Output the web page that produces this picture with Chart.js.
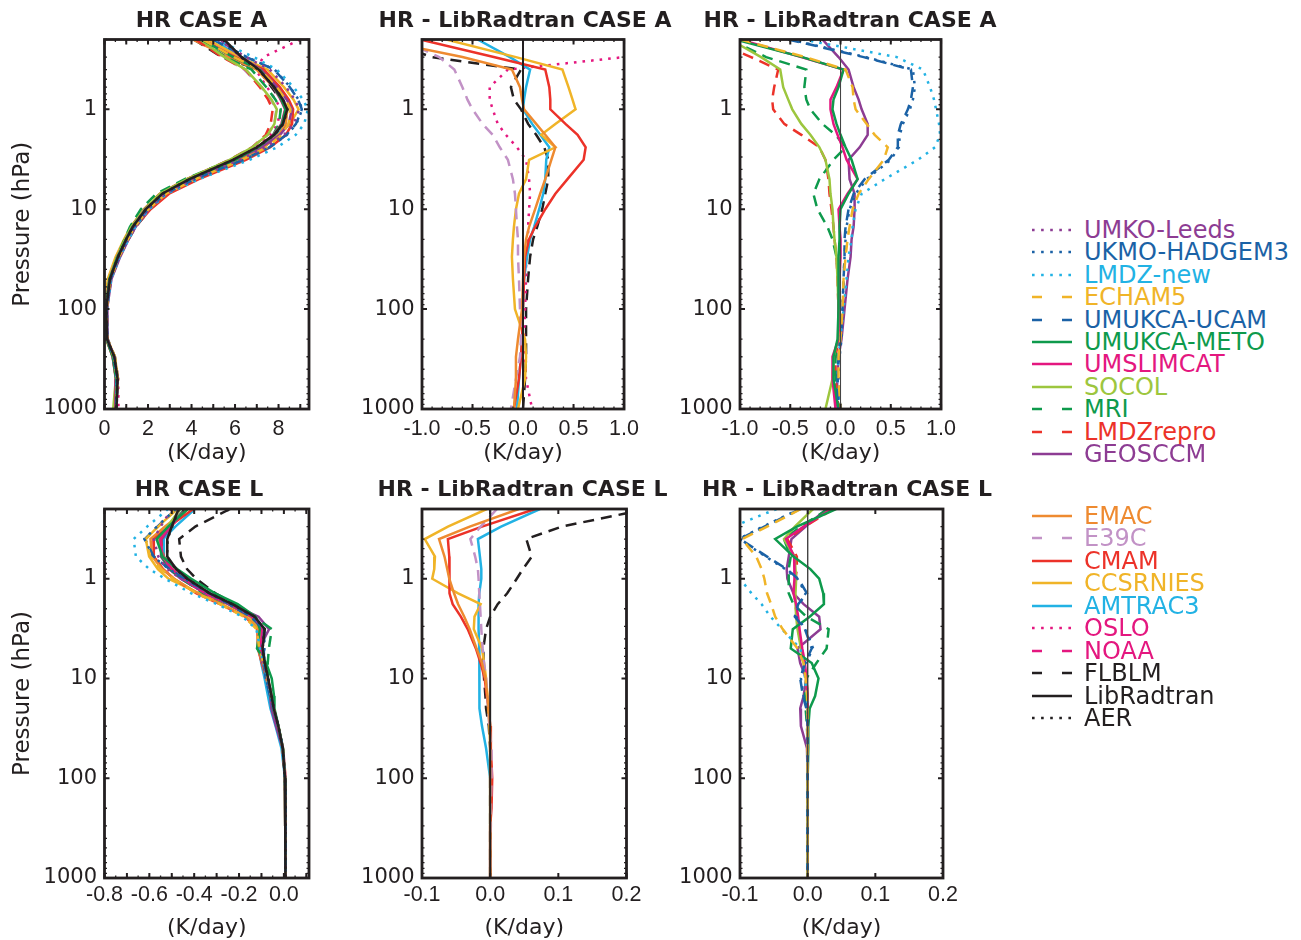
<!DOCTYPE html>
<html lang="en">
<head>
<meta charset="utf-8">
<title>Heating rate profiles</title>
<script src="https://cdn.jsdelivr.net/npm/chart.js@4.4.1/dist/chart.umd.min.js"></script>
<style>
  html, body { margin: 0; padding: 0; background: #fff; overflow: hidden; }
  #figure { position: relative; width: 1301px; height: 940px; overflow: hidden; background: #fff; }
  #figure canvas { position: absolute; }
  .panel-title {
    position: absolute; width: 400px; text-align: center; white-space: nowrap;
    font: bold 22px "DejaVu Sans", sans-serif; line-height: 26px; color: #231f20;
  }
  .legend-row {
    position: absolute; left: 1032px; height: 24px; display: flex; align-items: center;
    font: 24px "DejaVu Sans", sans-serif; white-space: nowrap;
  }
  .legend-row svg { margin-right: 12px; flex: none; }
</style>
</head>
<body>
<div id="figure"></div>
<script>
// Pressure levels (hPa) shared by every profile
const PRESSURE = [0.2, 0.3, 0.4, 0.6, 0.8, 1, 1.4, 1.8, 2.4, 3.2, 5, 7, 10, 15, 20, 30, 50, 100, 200, 300, 500, 1000];

// HR CASE A (K/day)
const hrCaseA = {
    'LibRadtran':   [5.5, 6.3, 7.1, 7.8, 8.2, 8.4, 8.2, 7.8, 7.0, 5.9, 3.9, 2.65, 1.9, 1.3, 1.0, 0.62, 0.25, 0.08, 0.12, 0.45, 0.6, 0.55],
    'AER':          [5.45, 6.28, 7.08, 7.8, 8.21, 8.41, 8.22, 7.82, 7.02, 5.92, 3.91, 2.66, 1.9, 1.3, 1.0, 0.62, 0.25, 0.08, 0.12, 0.45, 0.6, 0.55],
    'UMKO-Leeds':   [5.2, 6.5, 7.6, 8.35, 8.75, 8.95, 8.7, 8.25, 7.4, 6.2, 4.05, 2.75, 1.95, 1.33, 1.02, 0.64, 0.26, 0.09, 0.13, 0.46, 0.61, 0.56],
    'UKMO-HADGEM3': [5.0, 6.55, 7.82, 8.54, 8.92, 9.09, 8.82, 8.39, 7.58, 6.4, 4.16, 2.8, 1.99, 1.36, 1.05, 0.66, 0.28, 0.1, 0.13, 0.44, 0.58, 0.55],
    'LMDZ-new':     [5.12, 6.86, 7.92, 8.69, 9.13, 9.35, 9.18, 8.79, 7.94, 6.67, 4.34, 2.86, 2.05, 1.42, 1.11, 0.7, 0.31, 0.11, 0.12, 0.43, 0.57, 0.55],
    'ECHAM5':       [4.5, 5.95, 7.15, 7.92, 8.33, 8.55, 8.46, 8.14, 7.47, 6.33, 4.18, 2.83, 2.02, 1.39, 1.07, 0.67, 0.28, 0.1, 0.12, 0.43, 0.58, 0.55],
    'UMUKCA-UCAM':  [4.98, 6.53, 7.8, 8.52, 8.9, 9.07, 8.8, 8.37, 7.57, 6.38, 4.14, 2.78, 1.98, 1.35, 1.04, 0.66, 0.28, 0.1, 0.12, 0.43, 0.57, 0.53],
    'UMUKCA-METO':  [4.45, 5.92, 7.13, 7.78, 8.13, 8.32, 8.16, 7.8, 7.05, 6.01, 4.07, 2.73, 1.9, 1.29, 0.99, 0.6, 0.23, 0.06, 0.09, 0.38, 0.53, 0.53],
    'UMSLIMCAT':    [4.5, 5.91, 7.13, 7.76, 8.1, 8.3, 8.13, 7.77, 7.02, 5.96, 4.07, 2.72, 1.88, 1.29, 1.0, 0.62, 0.24, 0.06, 0.1, 0.37, 0.52, 0.5],
    'SOCOL':        [4.4, 5.51, 6.5, 7.23, 7.68, 7.92, 7.81, 7.5, 6.79, 5.75, 3.79, 2.55, 1.82, 1.23, 0.94, 0.58, 0.22, 0.06, 0.1, 0.38, 0.52, 0.4],
    'MRI':          [4.4, 5.56, 6.76, 7.44, 7.86, 8.1, 8.02, 7.75, 7.05, 5.83, 3.69, 2.38, 1.67, 1.17, 0.92, 0.58, 0.23, 0.06, 0.1, 0.4, 0.55, 0.53],
    'LMDZrepro':    [4.2, 5.41, 6.48, 7.14, 7.52, 7.73, 7.64, 7.41, 6.79, 5.75, 3.78, 2.54, 1.81, 1.23, 0.94, 0.58, 0.22, 0.06, 0.1, 0.4, 0.55, 0.53],
    'GEOSCCM':      [5.32, 6.28, 7.18, 7.93, 8.38, 8.61, 8.47, 8.07, 7.19, 5.98, 3.99, 2.79, 2.04, 1.43, 1.11, 0.72, 0.32, 0.12, 0.13, 0.43, 0.57, 0.5],
    'EMAC':         [4.05, 5.7, 6.99, 7.77, 8.19, 8.41, 8.33, 8.02, 7.32, 6.18, 4.12, 2.82, 2.02, 1.36, 1.03, 0.63, 0.25, 0.07, 0.07, 0.38, 0.53, 0.46],
    'E39C':         [4.3, 5.47, 6.42, 7.2, 7.65, 7.9, 7.8, 7.5, 6.77, 5.75, 3.8, 2.57, 1.83, 1.24, 0.95, 0.57, 0.21, 0.05, 0.1, 0.42, 0.53, 0.43],
    'CMAM':         [4.5, 6.01, 7.32, 8.06, 8.47, 8.67, 8.62, 8.34, 7.62, 6.5, 4.34, 2.97, 2.12, 1.42, 1.06, 0.64, 0.26, 0.08, 0.11, 0.43, 0.56, 0.46],
    'CCSRNIES':     [4.74, 6.23, 7.49, 8.25, 8.69, 8.92, 8.52, 7.98, 7.32, 5.96, 3.93, 2.61, 1.83, 1.21, 0.9, 0.51, 0.15, 0.0, 0.14, 0.48, 0.62, 0.5],
    'AMTRAC3':      [5.05, 6.17, 7.17, 7.83, 8.21, 8.4, 8.29, 7.97, 7.26, 6.13, 4.12, 2.85, 2.06, 1.41, 1.07, 0.66, 0.26, 0.08, 0.11, 0.43, 0.56, 0.49],
    'OSLO':         [9.0, 7.3, 6.95, 7.47, 7.87, 8.1, 7.95, 7.63, 6.94, 5.93, 3.96, 2.72, 1.96, 1.35, 1.05, 0.65, 0.28, 0.1, 0.13, 0.47, 0.63, 0.64],
    'FLBLM':        [4.1, 5.4, 7.08, 7.68, 8.11, 8.38, 8.25, 7.93, 7.21, 6.15, 4.15, 2.87, 2.09, 1.44, 1.1, 0.69, 0.3, 0.11, 0.15, 0.48, 0.62, 0.55]
};

// HR - LibRadtran CASE A, models of the middle panel (K/day)
const diffCaseAMid = {
    'LibRadtran': [0, 0, 0, 0, 0, 0, 0, 0, 0, 0, 0, 0, 0, 0, 0, 0, 0, 0, 0, 0, 0, 0],
    'EMAC':       [-1.45, -0.6, -0.11, -0.03, -0.01, 0.01, 0.13, 0.22, 0.32, 0.28, 0.22, 0.17, 0.12, 0.06, 0.03, 0.01, 0.0, -0.01, -0.05, -0.07, -0.07, -0.09],
    'E39C':       [-1.2, -0.83, -0.68, -0.6, -0.55, -0.5, -0.4, -0.3, -0.23, -0.15, -0.1, -0.08, -0.07, -0.06, -0.05, -0.05, -0.04, -0.03, -0.02, -0.03, -0.07, -0.12],
    'CMAM':       [-1.02, -0.29, 0.22, 0.26, 0.27, 0.27, 0.42, 0.54, 0.62, 0.6, 0.44, 0.32, 0.22, 0.12, 0.06, 0.02, 0.01, 0.0, -0.01, -0.02, -0.04, -0.09],
    'CCSRNIES':   [-0.76, -0.07, 0.39, 0.45, 0.49, 0.52, 0.32, 0.18, 0.32, 0.06, 0.03, -0.04, -0.07, -0.09, -0.1, -0.11, -0.1, -0.08, 0.02, 0.03, 0.02, -0.05],
    'AMTRAC3':    [-0.45, -0.13, 0.07, 0.03, 0.01, 0.0, 0.09, 0.17, 0.26, 0.23, 0.22, 0.2, 0.16, 0.11, 0.07, 0.04, 0.01, 0.0, -0.01, -0.02, -0.04, -0.06],
    'OSLO':       [3.5, 1.0, -0.15, -0.33, -0.33, -0.3, -0.25, -0.17, -0.06, 0.03, 0.06, 0.07, 0.06, 0.05, 0.05, 0.03, 0.03, 0.02, 0.01, 0.02, 0.03, 0.09],
    'FLBLM':      [-1.4, -0.9, -0.02, -0.12, -0.09, -0.02, 0.05, 0.13, 0.21, 0.25, 0.25, 0.22, 0.19, 0.14, 0.1, 0.07, 0.05, 0.03, 0.03, 0.03, 0.02, 0.0]
};

// HR - LibRadtran CASE A, models of the right panel (K/day)
const diffCaseARight = {
    'LibRadtran':   [0, 0, 0, 0, 0, 0, 0, 0, 0, 0, 0, 0, 0, 0, 0, 0, 0, 0, 0, 0, 0, 0],
    'ECHAM5':       [-1.0, -0.35, 0.05, 0.12, 0.13, 0.15, 0.26, 0.34, 0.47, 0.43, 0.28, 0.18, 0.12, 0.09, 0.07, 0.05, 0.03, 0.02, 0.0, -0.02, -0.02, 0.0],
    'UMUKCA-UCAM':  [-0.52, 0.23, 0.7, 0.72, 0.7, 0.67, 0.6, 0.57, 0.57, 0.48, 0.24, 0.13, 0.08, 0.05, 0.04, 0.04, 0.03, 0.02, 0.0, -0.02, -0.03, -0.02],
    'UKMO-HADGEM3': [-0.5, 0.25, 0.72, 0.74, 0.72, 0.69, 0.62, 0.59, 0.58, 0.5, 0.26, 0.15, 0.09, 0.06, 0.05, 0.04, 0.03, 0.02, 0.01, -0.01, -0.02, 0.0],
    'LMDZ-new':     [-0.38, 0.56, 0.82, 0.89, 0.93, 0.95, 0.98, 0.99, 0.94, 0.77, 0.44, 0.21, 0.15, 0.12, 0.11, 0.08, 0.06, 0.03, 0.0, -0.02, -0.03, 0.0],
    'UMUKCA-METO':  [-1.05, -0.38, 0.03, -0.02, -0.07, -0.08, -0.04, 0.0, 0.05, 0.11, 0.17, 0.08, 0.0, -0.01, -0.01, -0.02, -0.02, -0.02, -0.03, -0.07, -0.07, -0.02],
    'UMSLIMCAT':    [-1.0, -0.39, 0.03, -0.04, -0.1, -0.1, -0.07, -0.03, 0.02, 0.06, 0.17, 0.07, -0.02, -0.01, 0.0, 0.0, -0.01, -0.02, -0.02, -0.08, -0.08, -0.05],
    'SOCOL':        [-1.1, -0.79, -0.6, -0.57, -0.52, -0.48, -0.39, -0.3, -0.21, -0.15, -0.11, -0.1, -0.08, -0.07, -0.06, -0.04, -0.03, -0.02, -0.02, -0.07, -0.08, -0.15],
    'MRI':          [-1.1, -0.74, -0.34, -0.36, -0.34, -0.3, -0.18, -0.05, 0.05, -0.07, -0.21, -0.27, -0.23, -0.13, -0.08, -0.04, -0.02, -0.02, -0.02, -0.05, -0.05, -0.02],
    'LMDZrepro':    [-1.3, -0.89, -0.62, -0.66, -0.68, -0.67, -0.56, -0.39, -0.21, -0.15, -0.12, -0.11, -0.09, -0.07, -0.06, -0.04, -0.03, -0.02, -0.02, -0.05, -0.05, -0.02],
    'GEOSCCM':      [-0.18, -0.02, 0.08, 0.13, 0.18, 0.21, 0.27, 0.27, 0.19, 0.08, 0.09, 0.14, 0.14, 0.13, 0.11, 0.1, 0.07, 0.04, 0.01, -0.02, -0.03, -0.05]
};

// HR CASE L (K/day)
const hrCaseL = {
    'LibRadtran':   [-0.47, -0.5, -0.52, -0.52, -0.48, -0.43, -0.33, -0.23, -0.13, -0.085, -0.095, -0.085, -0.07, -0.055, -0.045, -0.025, -0.005, 0.005, 0.007, 0.007, 0.007, 0.007],
    'AER':          [-0.468, -0.498, -0.519, -0.521, -0.482, -0.432, -0.331, -0.231, -0.131, -0.086, -0.095, -0.085, -0.07, -0.055, -0.045, -0.025, -0.005, 0.005, 0.007, 0.007, 0.007, 0.007],
    'UMKO-Leeds':   [-0.5, -0.55, -0.58, -0.56, -0.52, -0.46, -0.35, -0.24, -0.14, -0.09, -0.1, -0.09, -0.072, -0.056, -0.046, -0.026, -0.005, 0.005, 0.007, 0.007, 0.007, 0.007],
    'UKMO-HADGEM3': [-0.482, -0.566, -0.622, -0.582, -0.513, -0.445, -0.333, -0.243, -0.147, -0.088, -0.087, -0.088, -0.08, -0.061, -0.046, -0.025, -0.005, 0.005, 0.007, 0.007, 0.007, 0.007],
    'LMDZ-new':     [-0.516, -0.61, -0.67, -0.66, -0.6, -0.53, -0.413, -0.298, -0.185, -0.123, -0.106, -0.091, -0.074, -0.056, -0.045, -0.025, -0.005, 0.005, 0.007, 0.007, 0.007, 0.007],
    'ECHAM5':       [-0.48, -0.56, -0.617, -0.596, -0.548, -0.494, -0.39, -0.284, -0.178, -0.122, -0.11, -0.091, -0.073, -0.056, -0.045, -0.025, -0.005, 0.005, 0.007, 0.007, 0.007, 0.007],
    'UMUKCA-UCAM':  [-0.481, -0.564, -0.62, -0.58, -0.511, -0.444, -0.331, -0.244, -0.149, -0.089, -0.089, -0.089, -0.081, -0.062, -0.047, -0.025, -0.005, 0.005, 0.007, 0.007, 0.007, 0.007],
    'UMUKCA-METO':  [-0.428, -0.516, -0.568, -0.541, -0.476, -0.413, -0.307, -0.206, -0.127, -0.107, -0.12, -0.079, -0.054, -0.044, -0.042, -0.024, -0.004, 0.005, 0.007, 0.007, 0.007, 0.007],
    'UMSLIMCAT':    [-0.435, -0.506, -0.552, -0.54, -0.499, -0.45, -0.351, -0.247, -0.144, -0.097, -0.103, -0.089, -0.072, -0.055, -0.045, -0.025, -0.005, 0.005, 0.007, 0.007, 0.007, 0.007],
    'SOCOL':        [-0.462, -0.519, -0.555, -0.539, -0.498, -0.447, -0.348, -0.248, -0.147, -0.1, -0.105, -0.091, -0.072, -0.055, -0.045, -0.025, -0.005, 0.005, 0.007, 0.007, 0.007, 0.007],
    'MRI':          [-0.44, -0.51, -0.555, -0.545, -0.508, -0.458, -0.358, -0.251, -0.132, -0.054, -0.067, -0.072, -0.072, -0.059, -0.048, -0.026, -0.005, 0.005, 0.007, 0.007, 0.007, 0.007],
    'LMDZrepro':    [-0.432, -0.504, -0.55, -0.536, -0.496, -0.448, -0.35, -0.248, -0.146, -0.099, -0.104, -0.09, -0.072, -0.055, -0.045, -0.025, -0.005, 0.005, 0.007, 0.007, 0.007, 0.007],
    'GEOSCCM':      [-0.442, -0.503, -0.544, -0.548, -0.511, -0.46, -0.351, -0.236, -0.113, -0.066, -0.11, -0.096, -0.072, -0.061, -0.056, -0.035, -0.006, 0.005, 0.007, 0.007, 0.007, 0.007],
    'EMAC':         [-0.428, -0.53, -0.595, -0.587, -0.543, -0.49, -0.383, -0.277, -0.168, -0.115, -0.115, -0.097, -0.077, -0.059, -0.047, -0.025, -0.005, 0.005, 0.007, 0.007, 0.007, 0.007],
    'E39C':         [-0.46, -0.514, -0.549, -0.542, -0.498, -0.447, -0.346, -0.245, -0.144, -0.098, -0.106, -0.094, -0.076, -0.059, -0.048, -0.026, -0.003, 0.007, 0.008, 0.008, 0.007, 0.007],
    'CMAM':         [-0.404, -0.512, -0.582, -0.58, -0.539, -0.49, -0.39, -0.285, -0.173, -0.118, -0.116, -0.099, -0.078, -0.06, -0.047, -0.025, -0.004, 0.008, 0.009, 0.007, 0.007, 0.007],
    'CCSRNIES':     [-0.475, -0.562, -0.616, -0.601, -0.562, -0.515, -0.377, -0.244, -0.153, -0.109, -0.107, -0.094, -0.076, -0.059, -0.048, -0.026, -0.005, 0.005, 0.007, 0.007, 0.007, 0.007],
    'AMTRAC3':      [-0.397, -0.484, -0.538, -0.535, -0.493, -0.443, -0.346, -0.247, -0.147, -0.102, -0.111, -0.101, -0.086, -0.071, -0.06, -0.037, -0.011, 0.005, 0.007, 0.007, 0.007, 0.007],
    'FLBLM':        [-0.24, -0.395, -0.467, -0.459, -0.432, -0.391, -0.305, -0.219, -0.13, -0.091, -0.105, -0.095, -0.079, -0.062, -0.051, -0.027, -0.005, 0.005, 0.007, 0.007, 0.007, 0.007]
};

// HR - LibRadtran CASE L, models of the middle panel (K/day)
const diffCaseLMid = {
    'LibRadtran': [0, 0, 0, 0, 0, 0, 0, 0, 0, 0, 0, 0, 0, 0, 0, 0, 0, 0, 0, 0, 0, 0],
    'EMAC':       [0.042, -0.03, -0.075, -0.067, -0.063, -0.06, -0.053, -0.047, -0.038, -0.03, -0.02, -0.012, -0.007, -0.004, -0.002, 0, 0, 0, 0, 0, 0, 0],
    'E39C':       [0.01, -0.014, -0.029, -0.022, -0.018, -0.017, -0.016, -0.015, -0.014, -0.013, -0.011, -0.009, -0.006, -0.004, -0.003, -0.001, 0.002, 0.002, 0.001, 0.001, 0, 0],
    'CMAM':       [0.066, -0.012, -0.062, -0.06, -0.059, -0.06, -0.06, -0.055, -0.043, -0.033, -0.021, -0.014, -0.008, -0.005, -0.002, 0, 0.001, 0.003, 0.002, 0, 0, 0],
    'CCSRNIES':   [-0.005, -0.062, -0.096, -0.081, -0.082, -0.085, -0.047, -0.014, -0.023, -0.024, -0.012, -0.009, -0.006, -0.004, -0.003, -0.001, 0, 0, 0, 0, 0, 0],
    'AMTRAC3':    [0.073, 0.016, -0.018, -0.015, -0.013, -0.013, -0.016, -0.017, -0.017, -0.017, -0.016, -0.016, -0.016, -0.016, -0.015, -0.012, -0.006, 0, 0, 0, 0, 0],
    'FLBLM':      [0.23, 0.105, 0.053, 0.061, 0.048, 0.039, 0.025, 0.011, 0, -0.006, -0.01, -0.01, -0.009, -0.007, -0.006, -0.002, 0, 0, 0, 0, 0, 0]
};

// HR - LibRadtran CASE L, models of the right panel (K/day)
const diffCaseLRight = {
    'LibRadtran':   [0, 0, 0, 0, 0, 0, 0, 0, 0, 0, 0, 0, 0, 0, 0, 0, 0, 0, 0, 0, 0, 0],
    'ECHAM5':       [-0.01, -0.06, -0.097, -0.076, -0.068, -0.064, -0.06, -0.054, -0.048, -0.037, -0.015, -0.006, -0.003, -0.001, 0, 0, 0, 0, 0, 0, 0, 0],
    'UMUKCA-UCAM':  [-0.011, -0.064, -0.1, -0.06, -0.031, -0.014, -0.001, -0.014, -0.019, -0.004, 0.006, -0.004, -0.011, -0.007, -0.002, 0, 0, 0, 0, 0, 0, 0],
    'UKMO-HADGEM3': [-0.012, -0.066, -0.102, -0.062, -0.033, -0.015, -0.003, -0.013, -0.017, -0.003, 0.008, -0.003, -0.01, -0.006, -0.001, 0, 0, 0, 0, 0, 0, 0],
    'LMDZ-new':     [-0.046, -0.11, -0.15, -0.14, -0.12, -0.1, -0.083, -0.068, -0.055, -0.038, -0.011, -0.006, -0.004, -0.001, 0, 0, 0, 0, 0, 0, 0, 0],
    'UMUKCA-METO':  [0.042, -0.016, -0.048, -0.021, 0.004, 0.017, 0.023, 0.024, 0.003, -0.022, -0.025, 0.006, 0.016, 0.011, 0.003, 0.001, 0.001, 0, 0, 0, 0, 0],
    'UMSLIMCAT':    [0.035, -0.006, -0.032, -0.02, -0.019, -0.02, -0.021, -0.017, -0.014, -0.012, -0.008, -0.004, -0.002, 0, 0, 0, 0, 0, 0, 0, 0, 0],
    'SOCOL':        [0.008, -0.019, -0.035, -0.019, -0.018, -0.017, -0.018, -0.018, -0.017, -0.015, -0.01, -0.006, -0.002, 0, 0, 0, 0, 0, 0, 0, 0, 0],
    'MRI':          [0.03, -0.01, -0.035, -0.025, -0.028, -0.028, -0.028, -0.021, -0.002, 0.031, 0.028, 0.013, -0.002, -0.004, -0.003, -0.001, 0, 0, 0, 0, 0, 0],
    'LMDZrepro':    [0.038, -0.004, -0.03, -0.016, -0.016, -0.018, -0.02, -0.018, -0.016, -0.014, -0.009, -0.005, -0.002, 0, 0, 0, 0, 0, 0, 0, 0, 0],
    'GEOSCCM':      [0.028, -0.003, -0.024, -0.028, -0.031, -0.03, -0.021, -0.006, 0.017, 0.019, -0.015, -0.011, -0.002, -0.006, -0.011, -0.01, -0.001, 0, 0, 0, 0, 0]
};

// Legend entries, top and bottom blocks
const LEGEND_TOP = ['UMKO-Leeds', 'UKMO-HADGEM3', 'LMDZ-new', 'ECHAM5', 'UMUKCA-UCAM', 'UMUKCA-METO',
    'UMSLIMCAT', 'SOCOL', 'MRI', 'LMDZrepro', 'GEOSCCM'];
const LEGEND_BOTTOM = ['EMAC', 'E39C', 'CMAM', 'CCSRNIES', 'AMTRAC3', 'OSLO', 'NOAA', 'FLBLM', 'LibRadtran', 'AER'];

// Pressure tick labels
const PRESSURE_TICKS = [1, 10, 100, 1000];

const INK = '#231f20';
const COLORS = {
    purple: '#8d3c93', blue: '#1b62a6', cyan: '#22b2e4', gold: '#f0b428', green: '#0e9a4c',
    magenta: '#e4177f', lime: '#9dc63e', red: '#ec3229', orange: '#ee8a30', lilac: '#c292c6', black: INK
};

const MODEL_STYLE = {
    'UMKO-Leeds':   { color: COLORS.purple,  dash: 'dot' },
    'UKMO-HADGEM3': { color: COLORS.blue,    dash: 'dot' },
    'LMDZ-new':     { color: COLORS.cyan,    dash: 'dot' },
    'ECHAM5':       { color: COLORS.gold,    dash: 'dash' },
    'UMUKCA-UCAM':  { color: COLORS.blue,    dash: 'dash' },
    'UMUKCA-METO':  { color: COLORS.green,   dash: 'solid' },
    'UMSLIMCAT':    { color: COLORS.magenta, dash: 'solid' },
    'SOCOL':        { color: COLORS.lime,    dash: 'solid' },
    'MRI':          { color: COLORS.green,   dash: 'dash' },
    'LMDZrepro':    { color: COLORS.red,     dash: 'dash' },
    'GEOSCCM':      { color: COLORS.purple,  dash: 'solid' },
    'EMAC':         { color: COLORS.orange,  dash: 'solid' },
    'E39C':         { color: COLORS.lilac,   dash: 'dash' },
    'CMAM':         { color: COLORS.red,     dash: 'solid' },
    'CCSRNIES':     { color: COLORS.gold,    dash: 'solid' },
    'AMTRAC3':      { color: COLORS.cyan,    dash: 'solid' },
    'OSLO':         { color: COLORS.magenta, dash: 'dot' },
    'NOAA':         { color: COLORS.magenta, dash: 'dash' },
    'FLBLM':        { color: COLORS.black,   dash: 'dash' },
    'LibRadtran':   { color: COLORS.black,   dash: 'solid' },
    'AER':          { color: COLORS.black,   dash: 'dot' }
};

const DASHES = { solid: [], dash: [11, 7], dot: [2.6, 6] };
const LEGEND_DASHES = { solid: 'none', dash: '10 20', dot: '2.6 6.5' };

// Panel layout (page pixels)
const PANELS = [
    { series: hrCaseA, title: 'HR CASE A', titleX: 201.5, titleY: 20,
      left: 0, top: 0, width: 330, height: 470, padTop: 39.5, padRight: 21, yWidth: 104.5, xHeight: 61,
      xMin: 0, xMax: 9.4, xLabels: [0, 2, 4, 6, 8], digits: 0, xMajor: 1, xMinor: 0.5,
      tickPad: 7, xTitlePad: 3.3, yTitle: true },
    { series: diffCaseAMid, title: 'HR - LibRadtran CASE A', titleX: 525, titleY: 20,
      left: 330, top: 0, width: 316, height: 470, padTop: 39.5, padRight: 20, yWidth: 92, xHeight: 61,
      xMin: -1, xMax: 1, xLabels: [-1, -0.5, 0, 0.5, 1], digits: 1, xMajor: 0.5, xMinor: 0.1,
      tickPad: 7, xTitlePad: 3.3, yTitle: false, refLine: { color: INK, width: 2 } },
    { series: diffCaseARight, title: 'HR - LibRadtran CASE A', titleX: 850, titleY: 20,
      left: 660, top: 0, width: 303, height: 470, padTop: 39.5, padRight: 20, yWidth: 80, xHeight: 61,
      xMin: -1, xMax: 1, xLabels: [-1, -0.5, 0, 0.5, 1], digits: 1, xMajor: 0.5, xMinor: 0.1,
      tickPad: 7, xTitlePad: 3.3, yTitle: false, refLine: { color: '#444', width: 1 } },
    { series: hrCaseL, title: 'HR CASE L', titleX: 199, titleY: 489,
      left: 0, top: 470, width: 330, height: 480, padTop: 39, padRight: 21, yWidth: 104.5, xHeight: 72,
      xMin: -0.8, xMax: 0.112, xLabels: [-0.8, -0.6, -0.4, -0.2, 0], digits: 1, xMajor: 0.1, xMinor: 0.05,
      tickPad: 4.4, xTitlePad: 8.8, yTitle: true },
    { series: diffCaseLMid, title: 'HR - LibRadtran CASE L', titleX: 522.5, titleY: 489,
      left: 330, top: 470, width: 316, height: 480, padTop: 39, padRight: 19.5, yWidth: 92, xHeight: 72,
      xMin: -0.1, xMax: 0.2, xLabels: [-0.1, 0, 0.1, 0.2], digits: 1, xMajor: 0.1, xMinor: null,
      tickPad: 4.4, xTitlePad: 8.8, yTitle: false, refLine: { color: INK, width: 2 } },
    { series: diffCaseLRight, title: 'HR - LibRadtran CASE L', titleX: 847, titleY: 489,
      left: 660, top: 470, width: 303, height: 480, padTop: 39, padRight: 20, yWidth: 80, xHeight: 72,
      xMin: -0.1, xMax: 0.2, xLabels: [-0.1, 0, 0.1, 0.2], digits: 1, xMajor: 0.1, xMinor: null,
      tickPad: 4.4, xTitlePad: 8.8, yTitle: false, refLine: { color: '#444', width: 1 } }
];

function stepValues(min, max, step) {
    const out = [];
    for (let k = Math.ceil(min / step - 1e-9); k * step <= max + 1e-9; k++) {
        out.push(+(k * step).toFixed(6));
    }
    return out;
}

// log minor ticks between 0.2 and 1000 hPa
const PRESSURE_MINOR = [];
[0.1, 1, 10, 100].forEach(decade => {
    for (let k = 2; k <= 9; k++) {
        const v = +(k * decade).toFixed(6);
        if (v >= 0.2 && v < 1000) PRESSURE_MINOR.push(v);
    }
});

// MATLAB-like box with inward ticks on all four sides
const frameTicks = {
    id: 'frameTicks',
    afterDatasetsDraw(chart, args, opts) {
        const { ctx, chartArea: a } = chart;
        const xs = chart.scales.x, ys = chart.scales.y;
        ctx.save();
        ctx.strokeStyle = INK;
        ctx.lineCap = 'butt';

        const xTicks = (values, len, w) => {
            ctx.lineWidth = w;
            ctx.beginPath();
            values.forEach(v => {
                const px = xs.getPixelForValue(v);
                ctx.moveTo(px, a.bottom); ctx.lineTo(px, a.bottom - len);
                ctx.moveTo(px, a.top); ctx.lineTo(px, a.top + len);
            });
            ctx.stroke();
        };
        const yTicks = (values, len, w) => {
            ctx.lineWidth = w;
            ctx.beginPath();
            values.forEach(v => {
                const py = ys.getPixelForValue(v);
                ctx.moveTo(a.left, py); ctx.lineTo(a.left + len, py);
                ctx.moveTo(a.right, py); ctx.lineTo(a.right - len, py);
            });
            ctx.stroke();
        };

        if (opts.xMinor) xTicks(opts.xMinor, 2.5, 1.3);
        xTicks(opts.xMajor, 5, 2);
        yTicks(PRESSURE_MINOR, 2.5, 1.3);
        yTicks(PRESSURE_TICKS, 5, 2);

        ctx.lineWidth = 2.8;
        ctx.strokeRect(a.left, a.top, a.right - a.left, a.bottom - a.top);
        ctx.restore();
    }
};

function profileDatasets(panel) {
    return Object.keys(panel.series).map(name => {
        const style = MODEL_STYLE[name];
        const isRef = name === 'LibRadtran' && panel.refLine;
        return {
            label: name,
            data: PRESSURE.map((p, i) => ({ x: panel.series[name][i], y: p })),
            showLine: true,
            borderColor: isRef ? panel.refLine.color : style.color,
            borderWidth: isRef ? panel.refLine.width : 2.5,
            borderDash: DASHES[style.dash],
            borderCapStyle: 'butt',
            pointRadius: 0,
            pointHoverRadius: 0,
            clip: 0
        };
    });
}

function makeConfig(panel) {
    const tickFont = { family: '"DejaVu Sans", sans-serif', size: 21 };
    return {
        type: 'scatter',
        data: { datasets: profileDatasets(panel) },
        plugins: [frameTicks],
        options: {
            responsive: false,
            animation: false,
            devicePixelRatio: 1,
            events: [],
            layout: { padding: { left: 0, top: panel.padTop, right: panel.padRight, bottom: 0 } },
            plugins: {
                legend: { display: false },
                tooltip: { enabled: false },
                title: { display: false },
                frameTicks: {
                    xMajor: stepValues(panel.xMin, panel.xMax, panel.xMajor),
                    xMinor: panel.xMinor ? stepValues(panel.xMin, panel.xMax, panel.xMinor) : null
                }
            },
            scales: {
                x: {
                    type: 'linear',
                    min: panel.xMin,
                    max: panel.xMax,
                    grid: { display: false, drawTicks: false, tickLength: 0 },
                    border: { display: false },
                    afterBuildTicks: scale => { scale.ticks = panel.xLabels.map(v => ({ value: v })); },
                    afterFit: scale => { scale.height = panel.xHeight; },
                    ticks: {
                        color: INK,
                        padding: panel.tickPad,
                        autoSkip: false,
                        maxRotation: 0,
                        font: { family: '"Liberation Sans", Arial, sans-serif', size: 21.5 },
                        callback: v => Number(v).toFixed(panel.digits)
                    },
                    title: {
                        display: true,
                        text: '(K/day)',
                        color: INK,
                        font: { family: '"DejaVu Sans", sans-serif', size: 22 },
                        padding: { top: 0, bottom: panel.xTitlePad }
                    }
                },
                y: {
                    type: 'logarithmic',
                    reverse: true,
                    min: 0.2,
                    max: 1000,
                    grid: { display: false, drawTicks: false, tickLength: 0 },
                    border: { display: false },
                    afterBuildTicks: scale => { scale.ticks = PRESSURE_TICKS.map(v => ({ value: v })); },
                    afterFit: scale => { scale.width = panel.yWidth; },
                    ticks: {
                        color: INK,
                        padding: 7.5,
                        autoSkip: false,
                        font: tickFont,
                        callback: v => String(v)
                    },
                    title: {
                        display: panel.yTitle,
                        text: 'Pressure (hPa)',
                        color: INK,
                        font: { family: '"DejaVu Sans", sans-serif', size: 23 },
                        padding: { top: 9.5, bottom: 0 }
                    }
                }
            }
        }
    };
}

const figure = document.getElementById('figure');

PANELS.forEach(panel => {
    const canvas = document.createElement('canvas');
    canvas.width = panel.width;
    canvas.height = panel.height;
    canvas.style.left = panel.left + 'px';
    canvas.style.top = panel.top + 'px';
    figure.appendChild(canvas);
    new Chart(canvas.getContext('2d'), makeConfig(panel));

    const title = document.createElement('div');
    title.className = 'panel-title';
    title.textContent = panel.title;
    title.style.left = (panel.titleX - 200) + 'px';
    title.style.top = (panel.titleY - 13) + 'px';
    figure.appendChild(title);
});

function addLegend(names, firstY, stepY) {
    names.forEach((name, i) => {
        const style = MODEL_STYLE[name];
        const row = document.createElement('div');
        row.className = 'legend-row';
        row.style.top = (firstY + i * stepY - 12) + 'px';
        row.style.color = style.color;
        row.innerHTML = '<svg width="40" height="6"><line x1="0" y1="3" x2="40" y2="3" stroke="' + style.color +
            '" stroke-width="2.6" stroke-dasharray="' + LEGEND_DASHES[style.dash] + '"/></svg>';
        const label = document.createElement('span');
        label.textContent = name;
        row.appendChild(label);
        figure.appendChild(row);
    });
}

addLegend(LEGEND_TOP, 230, 22.4);
addLegend(LEGEND_BOTTOM, 516, 22.45);
</script>
</body>
</html>
